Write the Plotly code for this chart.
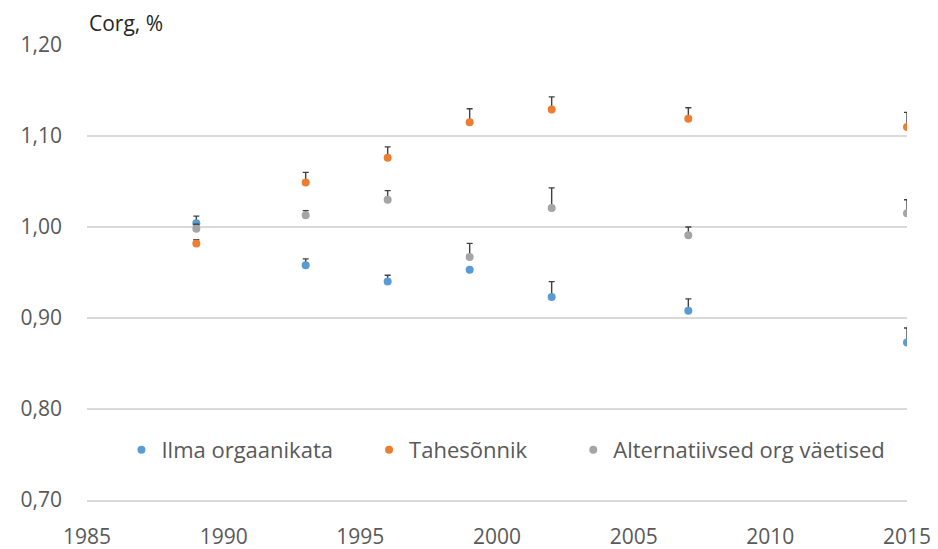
import plotly.graph_objects as go

years = [1989, 1993, 1996, 1999, 2002, 2007, 2015]

ilma = [1.004, 0.958, 0.940, 0.953, 0.923, 0.908, 0.873]
ilma_err = [0.008, 0.007, 0.007, 0.000, 0.017, 0.013, 0.016]

tahe = [0.982, 1.049, 1.076, 1.115, 1.129, 1.119, 1.110]
tahe_err = [0.004, 0.011, 0.012, 0.015, 0.014, 0.012, 0.016]

alt = [0.998, 1.013, 1.030, 0.967, 1.021, 0.991, 1.015]
alt_err = [0.005, 0.005, 0.010, 0.015, 0.022, 0.009, 0.015]

series = [
    ("Ilma orgaanikata", ilma, ilma_err, "#5b9bd5", "legend", 0.042),
    ("Tahesõnnik", tahe, tahe_err, "#ed7d31", "legend2", 0.344),
    ("Alternatiivsed org väetised", alt, alt_err, "#a5a5a5", "legend3", 0.593),
]

FONT = "Open Sans"
TXT = "#595959"
GRID = "#d9d9d9"
LEG_FONT = 22

fig = go.Figure()
legends = {}
for name, vals, err, color, leg, lx in series:
    fig.add_trace(go.Scatter(
        x=years, y=vals, name=name, mode="markers", legend=leg,
        marker=dict(color=color, size=8),
        error_y=dict(type="data", array=err, symmetric=False,
                     arrayminus=[0] * len(err),
                     color="#404040", thickness=1.4, width=3),
    ))
    legends[leg] = dict(orientation="h", x=lx, y=0.11, xanchor="left",
                        yanchor="middle",
                        font=dict(size=LEG_FONT, color=TXT),
                        bgcolor="rgba(0,0,0,0)", itemwidth=30)

fig.update_layout(
    width=938, height=549,
    margin=dict(l=87, r=31, t=45, b=49),
    plot_bgcolor="white", paper_bgcolor="white",
    separators=", ",
    font=dict(family=FONT, size=21, color=TXT),
    showlegend=True,
    xaxis=dict(range=[1985, 2015], dtick=5, tick0=1985,
               showgrid=False, zeroline=False, automargin=False,
               showline=True, linecolor=GRID, linewidth=1.5,
               ticks="", ticklabelstandoff=17,
               tickfont=dict(size=21, color=TXT)),
    yaxis=dict(range=[0.70, 1.20], dtick=0.1, tick0=0.7, tickformat=".2f",
               showgrid=True, gridcolor=GRID, gridwidth=1.5,
               zeroline=False, showline=False, ticks="", automargin=False,
               ticklabelstandoff=24,
               tickfont=dict(size=21, color=TXT)),
    annotations=[dict(text="Corg, %", xref="paper", yref="paper",
                      x=0, y=1, xanchor="left", yanchor="bottom", yshift=6,
                      showarrow=False, font=dict(size=21, color="#262626"))],
    **legends,
)

fig.write_html("out.html")
